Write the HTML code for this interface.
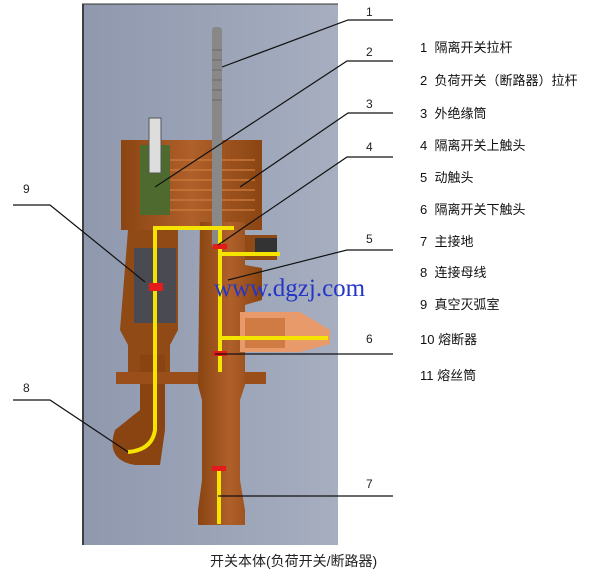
<!DOCTYPE html>
<html><head><meta charset="utf-8"><style>
body{margin:0;background:#fff;width:613px;height:576px;overflow:hidden;position:relative;font-family:"Liberation Sans","Noto Sans CJK SC",sans-serif}
.l{position:absolute;left:420px;font-size:13px;color:#111;white-space:nowrap}
</style></head><body>
<svg width="613" height="576" style="position:absolute;left:0;top:0">
<defs><linearGradient id="bg" x1="0" x2="1"><stop offset="0" stop-color="#8f98ad"/><stop offset="1" stop-color="#a6aec0"/></linearGradient>
<linearGradient id="cu" x1="0" x2="1"><stop offset="0" stop-color="#8a4512"/><stop offset="0.5" stop-color="#b0602a"/><stop offset="1" stop-color="#8a4512"/></linearGradient></defs>
<rect x="82" y="4" width="256" height="541" fill="url(#bg)"/>
<line x1="83" y1="4" x2="83" y2="545" stroke="#222" stroke-width="1.5"/>
<line x1="82" y1="4" x2="338" y2="4" stroke="#333"/>
<!-- top housing -->
<rect x="121" y="140" width="141" height="90" fill="url(#cu)"/>
<g stroke="#c8763a" stroke-width="1.5">
<line x1="140" y1="160" x2="255" y2="160"/><line x1="140" y1="170" x2="255" y2="170"/><line x1="140" y1="180" x2="255" y2="180"/><line x1="140" y1="190" x2="255" y2="190"/><line x1="140" y1="200" x2="255" y2="200"/><line x1="140" y1="210" x2="255" y2="210"/></g>
<!-- green bellows -->
<path d="M140 145 H170 V215 H140 Z" fill="#4f6a2f"/>
<rect x="149" y="118" width="12" height="55" fill="#ddd" stroke="#555"/>
<!-- left chamber -->
<path d="M128 230 H178 V330 L170 345 V378 H128 V345 L120 330 Z" fill="#8f4a16"/>
<rect x="134" y="248" width="42" height="75" fill="#4a4a52"/>
<path d="M140 355 V410 L115 430 Q105 460 135 465 H160 L165 430 V355 Z" fill="#8a4412"/>
<!-- lugs -->
<rect x="116" y="372" width="150" height="12" fill="#9a4f1a"/>
<!-- right column -->
<path d="M200 222 H245 V265 L262 268 V300 L245 305 V385 L240 400 V480 L245 510 V525 H198 V510 L202 480 V400 L198 385 Z" fill="url(#cu)"/>
<rect x="245" y="235" width="32" height="25" fill="#8f4a16"/>
<rect x="255" y="238" width="22" height="18" fill="#333"/>
<!-- fuse -->
<path d="M240 312 H300 L330 330 V344 L300 352 H240 Z" fill="#e89a6a"/>
<rect x="245" y="318" width="40" height="30" fill="#d07a44"/>
<!-- rod -->
<rect x="212" y="27" width="10" height="220" fill="#888" rx="3"/>
<g stroke="#6a6a6a"><line x1="212" y1="50" x2="222" y2="50"/><line x1="212" y1="60" x2="222" y2="60"/><line x1="212" y1="70" x2="222" y2="70"/><line x1="212" y1="80" x2="222" y2="80"/><line x1="212" y1="90" x2="222" y2="90"/><line x1="212" y1="100" x2="222" y2="100"/></g>
<!-- yellow wires -->
<g stroke="#f5e400" stroke-width="4" fill="none">
<path d="M155 390 V228 H234"/>
<path d="M155 390 V430 Q152 450 128 452"/>
<path d="M220 228 V372"/>
<path d="M220 254 H280"/>
<path d="M220 338 H328"/>
<path d="M219 466 V524"/>
</g>
<g fill="#e51b1b"><rect x="149" y="283" width="14" height="8"/><rect x="213" y="244" width="14" height="5"/><rect x="213" y="351" width="14" height="5"/><rect x="212" y="466" width="14" height="5"/></g>
<!-- leader lines -->
<g stroke="#111" stroke-width="1.2" fill="none">
<path d="M222 67 L348 20 H393"/>
<path d="M155 187 L347 61 H393"/>
<path d="M240 187 L348 113 H393"/>
<path d="M218 245 L347 157 H393"/>
<path d="M228 280 L347 250 H393"/>
<path d="M215 354 H393"/>
<path d="M218 496 H393"/>
<path d="M13 205 H50 L145 282"/>
<path d="M13 400 H50 L128 452"/>
</g>
<g font-family="Liberation Sans,sans-serif" font-size="12" fill="#222">
<text x="366" y="16">1</text><text x="366" y="56">2</text><text x="366" y="108">3</text><text x="366" y="151">4</text><text x="366" y="243">5</text><text x="366" y="343">6</text><text x="366" y="488">7</text><text x="23" y="193">9</text><text x="23" y="392">8</text>
</g>
<text x="214" y="296" font-family="Liberation Serif,serif" font-size="25" fill="#2436c8">www.dgzj.com</text>
</svg>
<div class="l" style="top:37px">1&nbsp;&nbsp;隔离开关拉杆</div>
<div class="l" style="top:70px">2&nbsp;&nbsp;负荷开关（断路器）拉杆</div>
<div class="l" style="top:103px">3&nbsp;&nbsp;外绝缘筒</div>
<div class="l" style="top:135px">4&nbsp;&nbsp;隔离开关上触头</div>
<div class="l" style="top:167px">5&nbsp;&nbsp;动触头</div>
<div class="l" style="top:199px">6&nbsp;&nbsp;隔离开关下触头</div>
<div class="l" style="top:231px">7&nbsp;&nbsp;主接地</div>
<div class="l" style="top:262px">8&nbsp;&nbsp;连接母线</div>
<div class="l" style="top:294px">9&nbsp;&nbsp;真空灭弧室</div>
<div class="l" style="top:329px">10 熔断器</div>
<div class="l" style="top:365px">11 熔丝筒</div>
<div style="position:absolute;left:210px;top:551px;font-size:14px;color:#222;white-space:nowrap">开关本体(负荷开关/断路器)</div>
</body></html>
